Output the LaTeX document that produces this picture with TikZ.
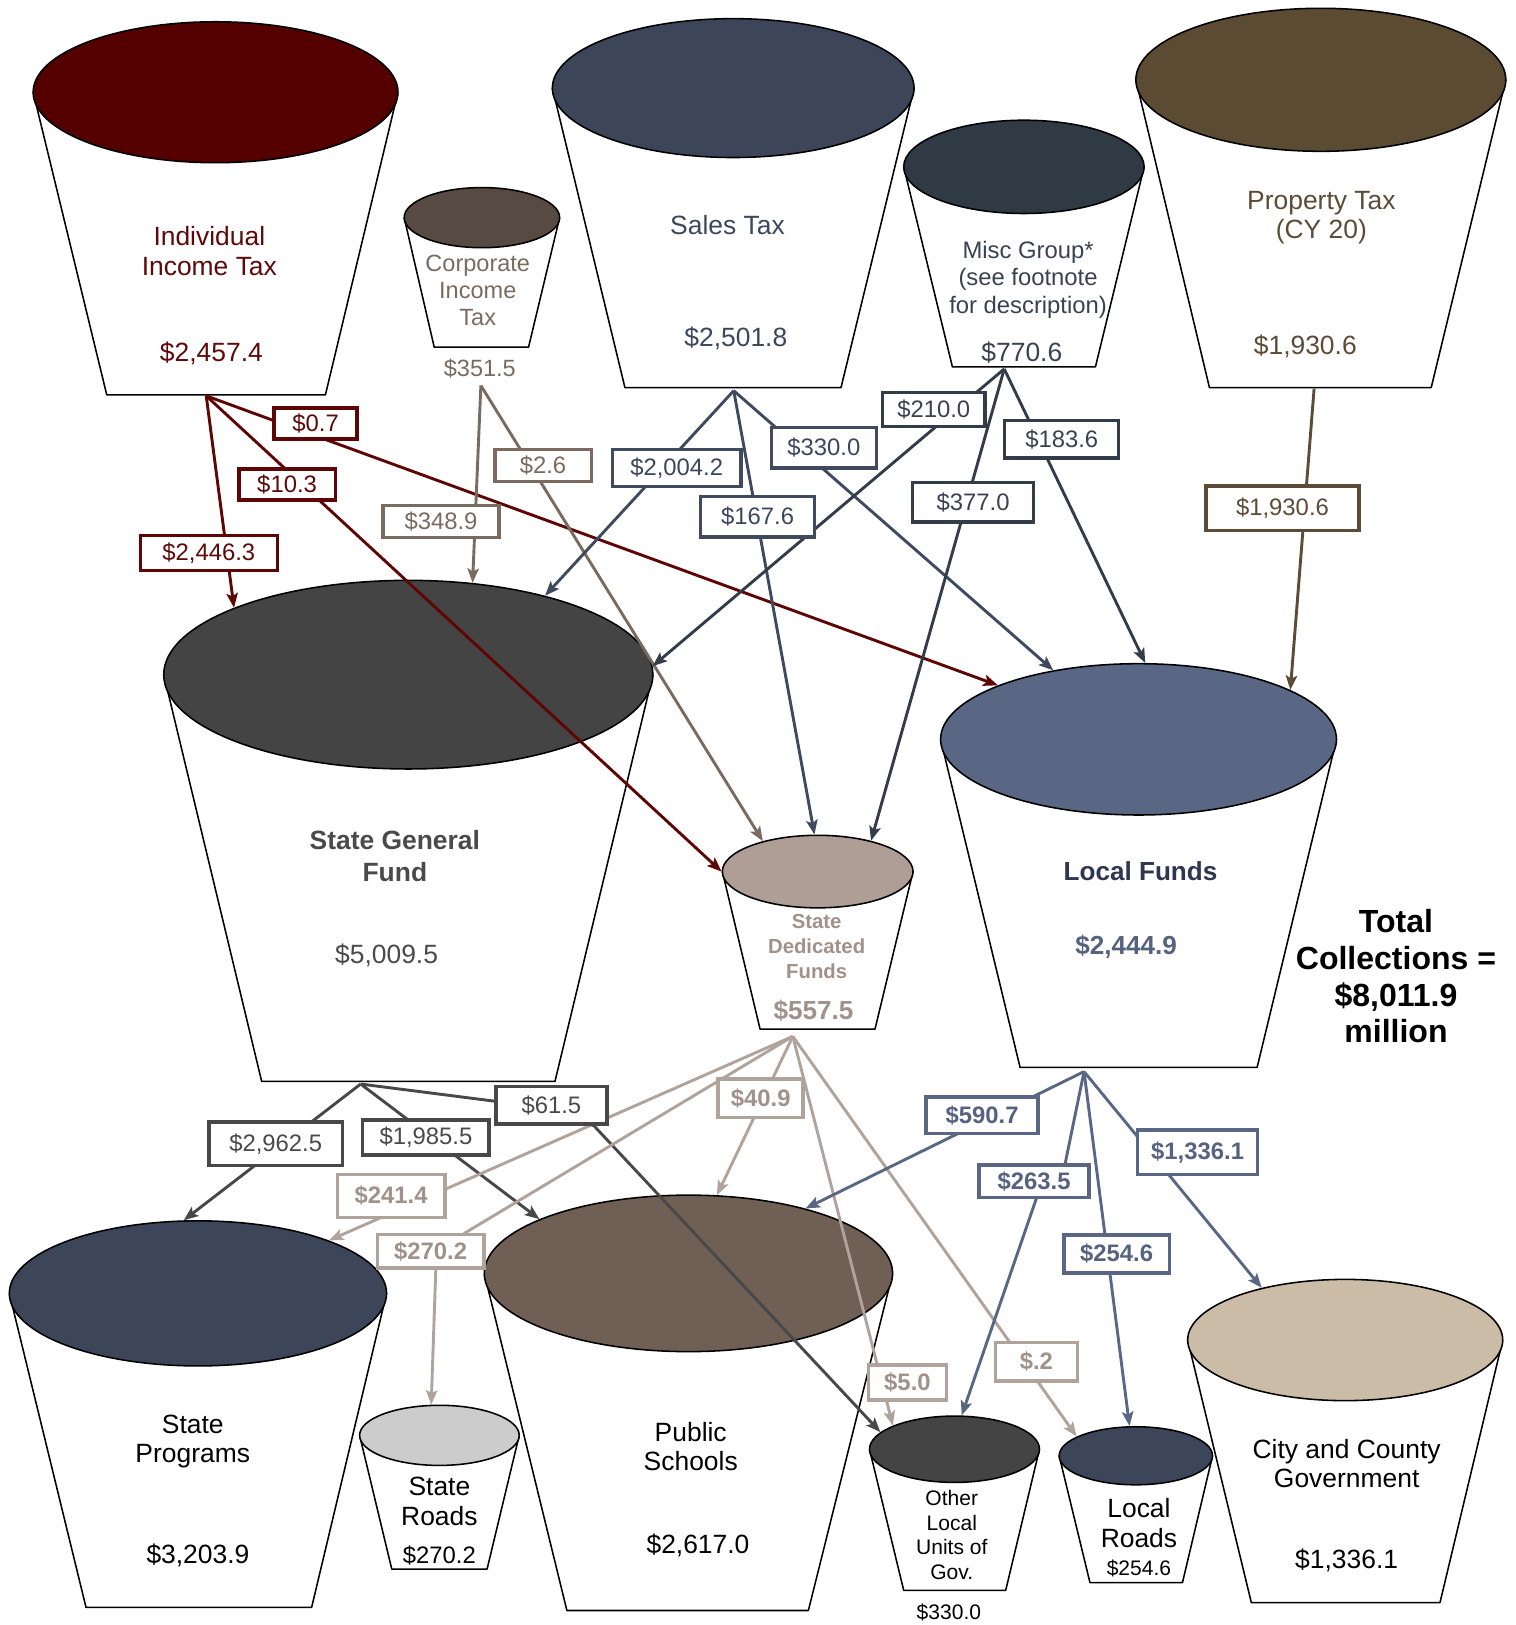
\documentclass[tikz,border=0pt]{standalone}
\usepackage{fontspec}
\setmainfont{Liberation Sans}
\usetikzlibrary{shapes.geometric,arrows.meta}
\pgfdeclarelayer{back}
\pgfsetlayers{back,main}

\definecolor{iitfill}{HTML}{550000}
\definecolor{iitline}{HTML}{5E0505}
\definecolor{iittext}{HTML}{5E0A0A}
\definecolor{citfill}{HTML}{564A42}
\definecolor{citline}{HTML}{7A6A5F}
\definecolor{cittext}{HTML}{7A6B61}
\definecolor{salfill}{HTML}{3D4659}
\definecolor{salline}{HTML}{3F4A5E}
\definecolor{saltext}{HTML}{3D475C}
\definecolor{mscfill}{HTML}{2F3A45}
\definecolor{mscline}{HTML}{333D4A}
\definecolor{msctext}{HTML}{3A4252}
\definecolor{prpfill}{HTML}{5C4B33}
\definecolor{prpline}{HTML}{5C4B36}
\definecolor{sgffill}{HTML}{444444}
\definecolor{sgfline}{HTML}{484848}
\definecolor{sgftext}{HTML}{4A4A4A}
\definecolor{sdffill}{HTML}{AE9E96}
\definecolor{sdfline}{HTML}{B0A39B}
\definecolor{sdftext}{HTML}{A0928A}
\definecolor{lffill}{HTML}{5A6784}
\definecolor{lfline}{HTML}{5A6784}
\definecolor{lftext}{HTML}{56627F}
\definecolor{lfdark}{HTML}{2E3650}
\definecolor{psfill}{HTML}{6F5F54}
\definecolor{srfill}{HTML}{CCCCCC}
\definecolor{ccfill}{HTML}{CBBCA7}

\begin{document}
\begin{tikzpicture}[x=1pt,y=-1pt,
	cup/.style={draw=black, line width=1.5pt, fill=white, line join=round},
	rim/.style={ellipse, draw=black, line width=1.5pt, inner sep=0pt},
	big/.style={font=\fontsize{25.5}{28.5}\selectfont, align=center, inner sep=0pt},
	mid/.style={font=\fontsize{23}{26.3}\selectfont, align=center, inner sep=0pt},
	small/.style={font=\fontsize{20.3}{23.7}\selectfont, align=center, inner sep=0pt},
	flow/.style={line width=2.8pt, -{Stealth[length=14pt,width=11pt,inset=3pt]}},
	lab/.style={draw, fill=white, line width=3.3pt, inner sep=0pt, font=\fontsize{23}{26}\selectfont},
	box/.style 2 args={minimum width=#1pt, minimum height=#2pt},
	iitlab/.style={lab, draw=iitline, text=iittext},
	citlab/.style={lab, draw=citline, text=cittext},
	sallab/.style={lab, draw=salline, text=saltext},
	msclab/.style={lab, draw=mscline, text=msctext},
	prplab/.style={lab, draw=prpline, text=prpline},
	sgflab/.style={lab, draw=sgfline, text=sgftext},
	sdflab/.style={lab, draw=sdfline, text=sdftext, font=\fontsize{23}{26}\selectfont\bfseries},
	lflab/.style={lab, draw=lfline, text=lftext, font=\fontsize{23}{26}\selectfont\bfseries}]
\useasboundingbox (0,0) rectangle (1462,1568);

\begin{pgfonlayer}{back}
	% sources
	\coordinate (iit) at (208,89);
	\draw[cup] ([xshift=-176pt]iit) -- (103,381) -- (314,381) -- ([xshift=176pt]iit);
	\node[rim, fill=iitfill, minimum width=352pt, minimum height=136pt] (iit-top) at (iit) {};
	\node[big, text=iittext] (iit-name) at (202,242) {Individual\\Income Tax};
	\node[big, text=iittext] (iit-val) at (204,341) {\$2,457.4};

	\coordinate (cit) at (465,210);
	\draw[cup] ([xshift=-75pt]cit) -- (419,335) -- (510,335) -- ([xshift=75pt]cit);
	\node[rim, fill=citfill, minimum width=150pt, minimum height=58pt] (cit-top) at (cit) {};
	\node[mid, text=cittext, font=\fontsize{22.7}{26}\selectfont] (cit-name) at (461,280) {Corporate\\Income\\Tax};
	\node[mid, text=cittext, font=\fontsize{22.7}{26}\selectfont] (cit-val) at (463,356) {\$351.5};

	\coordinate (sal) at (707.5,85);
	\draw[cup] ([xshift=-174.5pt]sal) -- (603,374) -- (811.5,374) -- ([xshift=174.5pt]sal);
	\node[rim, fill=salfill, minimum width=349pt, minimum height=134pt] (sal-top) at (sal) {};
	\node[big, text=saltext] (sal-name) at (702,217) {Sales Tax};
	\node[big, text=saltext] (sal-val) at (710,327) {\$2,501.8};

	\coordinate (msc) at (988,161);
	\draw[cup] ([xshift=-116pt]msc) -- (919,354) -- (1057,354) -- ([xshift=116pt]msc);
	\node[rim, fill=mscfill, minimum width=232pt, minimum height=90pt] (msc-top) at (msc) {};
	\node[mid, text=msctext] (msc-name) at (992,270) {Misc Group*\\(see footnote\\for description)};
	\node[big, text=msctext] (msc-val) at (986,340) {\$770.6};

	\coordinate (prp) at (1274.5,77);
	\draw[cup] ([xshift=-178.5pt]prp) -- (1167,374) -- (1381,374) -- ([xshift=178.5pt]prp);
	\node[rim, fill=prpfill, minimum width=357pt, minimum height=138pt] (prp-top) at (prp) {};
	\node[big, text=prpline] (prp-name) at (1275,210) {Property Tax\\(CY 20)};
	\node[big, text=prpline] (prp-val) at (1259.5,334) {\$1,930.6};

	% funds
	\coordinate (sgf) at (394,651);
	\draw[cup] ([xshift=-236pt]sgf) -- (252.5,1043.5) -- (535.5,1043.5) -- ([xshift=236pt]sgf);
	\node[rim, fill=sgffill, minimum width=472pt, minimum height=182pt] (sgf-top) at (sgf) {};
	\node[big, text=sgftext, font=\fontsize{25.5}{30}\selectfont\bfseries] (sgf-name) at (381,826) {State General\\Fund};
	\node[big, text=sgftext] (sgf-val) at (373,922) {\$5,009.5};

	\coordinate (sdf) at (789,841);
	\draw[cup] ([xshift=-92pt]sdf) -- (733.4,993) -- (844.3,993) -- ([xshift=92pt]sdf);
	\node[rim, fill=sdffill, minimum width=184pt, minimum height=70pt] (sdf-top) at (sdf) {};
	\node[small, text=sdftext, font=\fontsize{19.6}{24.3}\selectfont\bfseries] (sdf-name) at (788,913.5) {State\\Dedicated\\Funds};
	\node[big, text=sdftext, font=\fontsize{25.2}{28}\selectfont\bfseries] (sdf-val) at (785,975) {\$557.5};

	\coordinate (lf) at (1098.6,713.4);
	\draw[cup] ([xshift=-191pt]lf) -- (984.3,1030) -- (1213,1030) -- ([xshift=191pt]lf);
	\node[rim, fill=lffill, minimum width=382pt, minimum height=146pt] (lf-top) at (lf) {};
	\node[big, text=lfdark, font=\fontsize{25.2}{28}\selectfont\bfseries] (lf-name) at (1100.5,840.5) {Local Funds};
	\node[big, text=lftext, font=\fontsize{25.2}{28}\selectfont\bfseries] (lf-val) at (1086.6,913.6) {\$2,444.9};

	\node[align=center, inner sep=0pt, font=\fontsize{30.9}{35.5}\selectfont\bfseries] (total) at (1347,942) {Total\\Collections =\\\$8,011.9\\million};

	% uses
	\coordinate (sp) at (191,1248);
	\draw[cup] ([xshift=-182pt]sp) -- (83,1551) -- (300.7,1551) -- ([xshift=182pt]sp);
	\node[rim, fill=salfill, minimum width=364pt, minimum height=140pt] (sp-top) at (sp) {};
	\node[big] (sp-name) at (186,1391) {State\\Programs};
	\node[big] (sp-val) at (191,1501) {\$3,203.9};

	\coordinate (sr) at (424,1385);
	\draw[cup] ([xshift=-77pt]sr) -- (378,1514) -- (470,1514) -- ([xshift=77pt]sr);
	\node[rim, fill=srfill, minimum width=154pt, minimum height=58pt] (sr-top) at (sr) {};
	\node[big] (sr-name) at (424,1448.5) {State\\Roads};
	\node[mid] (sr-val) at (424,1501) {\$270.2};

	\coordinate (ps) at (664.3,1228.7);
	\draw[cup] ([xshift=-197pt]ps) -- (547,1554) -- (780,1554) -- ([xshift=197pt]ps);
	\node[rim, fill=psfill, minimum width=394pt, minimum height=151pt] (ps-top) at (ps) {};
	\node[big] (ps-name) at (666.5,1396) {Public\\Schools};
	\node[big] (ps-val) at (673.5,1491.6) {\$2,617.0};

	\coordinate (olu) at (921,1398.4);
	\draw[cup] ([xshift=-82pt]olu) -- (872,1534.6) -- (970.4,1534.6) -- ([xshift=82pt]olu);
	\node[rim, fill=sgffill, minimum width=164pt, minimum height=64pt] (olu-top) at (olu) {};
	\node[small] (olu-name) at (918.4,1481) {Other\\Local\\Units of\\Gov.};
	\node[small] (olu-val) at (915.6,1555.4) {\$330.0};

	\coordinate (lr) at (1096,1404.7);
	\draw[cup] ([xshift=-74pt]lr) -- (1051.7,1527) -- (1141,1527) -- ([xshift=74pt]lr);
	\node[rim, fill=salfill, minimum width=148pt, minimum height=56pt] (lr-top) at (lr) {};
	\node[big, font=\fontsize{25.5}{29.2}\selectfont] (lr-name) at (1099,1469.3) {Local\\Roads};
	\node[small] (lr-val) at (1099,1513.4) {\$254.6};

	\coordinate (cc) at (1298,1293);
	\draw[cup] ([xshift=-152pt]cc) -- (1207.4,1546.3) -- (1389.5,1546.3) -- ([xshift=152pt]cc);
	\node[rim, fill=ccfill, minimum width=304pt, minimum height=117pt] (cc-top) at (cc) {};
	\node[big] (cc-name) at (1299.4,1412.3) {City and County\\Government};
	\node[big] (cc-val) at (1299.4,1506) {\$1,336.1};
\end{pgfonlayer}

% amounts
\node[iitlab, box={80}{30}] (l07) at (304.5,408.5) {\$0.7};
\node[iitlab, box={93}{30}] (l103) at (277,467.5) {\$10.3};
\node[iitlab, box={132}{34}] (l24463) at (201.5,533.5) {\$2,446.3};
\node[citlab, box={112}{31}] (l3489) at (425.5,503) {\$348.9};
\node[citlab, box={93}{31}] (l26) at (524,449) {\$2.6};
\node[sallab, box={124}{36}] (l20042) at (653,451.5) {\$2,004.2};
\node[sallab, box={110}{39}] (l1676) at (731,498.5) {\$167.6};
\node[sallab, box={101}{39}] (l3300) at (795,432) {\$330.0};
\node[msclab, box={99}{33}] (l2100) at (901,395) {\$210.0};
\node[msclab, box={117}{38}] (l3770) at (939,484.5) {\$377.0};
\node[msclab, box={110}{36}] (l1836) at (1024.5,424) {\$183.6};
\node[prplab, box={148}{43}] (l19306) at (1237.5,490.5) {\$1,930.6};
\node[sgflab, box={129}{42}] (l29625) at (266,1103.7) {\$2,962.5};
\node[sgflab, box={122}{34}] (l19855) at (411,1097.5) {\$1,985.5};
\node[sgflab, box={107}{36}] (l615) at (532,1066.5) {\$61.5};
\node[sdflab, box={82}{37}] (l409) at (734,1059.7) {\$40.9};
\node[sdflab, box={104}{41}] (l2414) at (377.4,1154) {\$241.4};
\node[sdflab, box={103}{32}] (l2702) at (415.5,1207.4) {\$270.2};
\node[sdflab, box={75}{34}] (l50) at (875.6,1334) {\$5.0};
\node[sdflab, box={79}{37}] (l02) at (1000,1314) {\$.2};
\node[lflab, box={108}{35}] (l5907) at (947.7,1076) {\$590.7};
\node[lflab, box={106}{31}] (l2635) at (997.8,1139.8) {\$263.5};
\node[lflab, box={102}{37}] (l2546) at (1077.5,1210) {\$254.6};
\node[lflab, box={116}{43}] (l13361) at (1155.6,1112) {\$1,336.1};

\begin{pgfonlayer}{back}
	\coordinate (iit-out) at (199,382);
	\coordinate (cit-out) at (464,372);
	\coordinate (sal-out) at (708,377);
	\coordinate (msc-out) at (969,356);
	\coordinate (prp-out) at (1268,375);
	\coordinate (sgf-out) at (348,1046);
	\coordinate (sdf-out) at (765,1000);
	\coordinate (lf-out) at (1046,1034);

	\draw[flow, iitline] (iit-out) -- (sgf-top.159);
	\draw[flow, iitline] (iit-out) -- (sdf-top.180);
	\draw[flow, iitline] (iit-out) -- (lf-top.159);

	\draw[flow, citline] (cit-out) -- (sgf-top.55);
	\draw[flow, citline] (cit-out) -- (sdf-top.151);

	\draw[flow, salline] (sal-out) -- (sgf-top.30);
	\draw[flow, salline] (sal-out) -- (sdf-top.95);
	\draw[flow, salline] (sal-out) -- (lf-top.141);

	\draw[flow, mscline] (msc-out) -- (sgf-top.2);
	\draw[flow, mscline] (msc-out) -- (sdf-top.30);
	\draw[flow, mscline] (msc-out) -- (lf-top.85);

	\draw[flow, prpline] (prp-out) -- (lf-top.18);

	\draw[flow, sgfline] (sgf-out) -- (sp-top.101);
	\draw[flow, sgfline] (sgf-out) -- (ps-top.160);
	\draw[flow, sgfline] (sgf-out) -- ([yshift=4pt]l615.west) -- ([xshift=41pt]l615.south) -- (olu-top.167);

	\draw[flow, sdfline] (sdf-out) -- (ps-top.70);
	\draw[flow, sdfline] (sdf-out) -- (sp-top.22);
	\draw[flow, sdfline] (sdf-out) -- ([xshift=33pt]l2702.north) -- ([xshift=5pt]l2702.south) -- (sr-top.105);
	\draw[flow, sdfline] (sdf-out) -- (olu-top.159);
	\draw[flow, sdfline] (sdf-out) -- (lr-top.162);

	\draw[flow, lfline] (lf-out) -- (ps-top.29);
	\draw[flow, lfline] (lf-out) -- ([xshift=30pt]l2635.north) -- ([xshift=2pt]l2635.south) -- (olu-top.78);
	\draw[flow, lfline] (lf-out) -- (lr-top.102);
	\draw[flow, lfline] (lf-out) -- (cc-top.148);
\end{pgfonlayer}
\end{tikzpicture}
\end{document}
